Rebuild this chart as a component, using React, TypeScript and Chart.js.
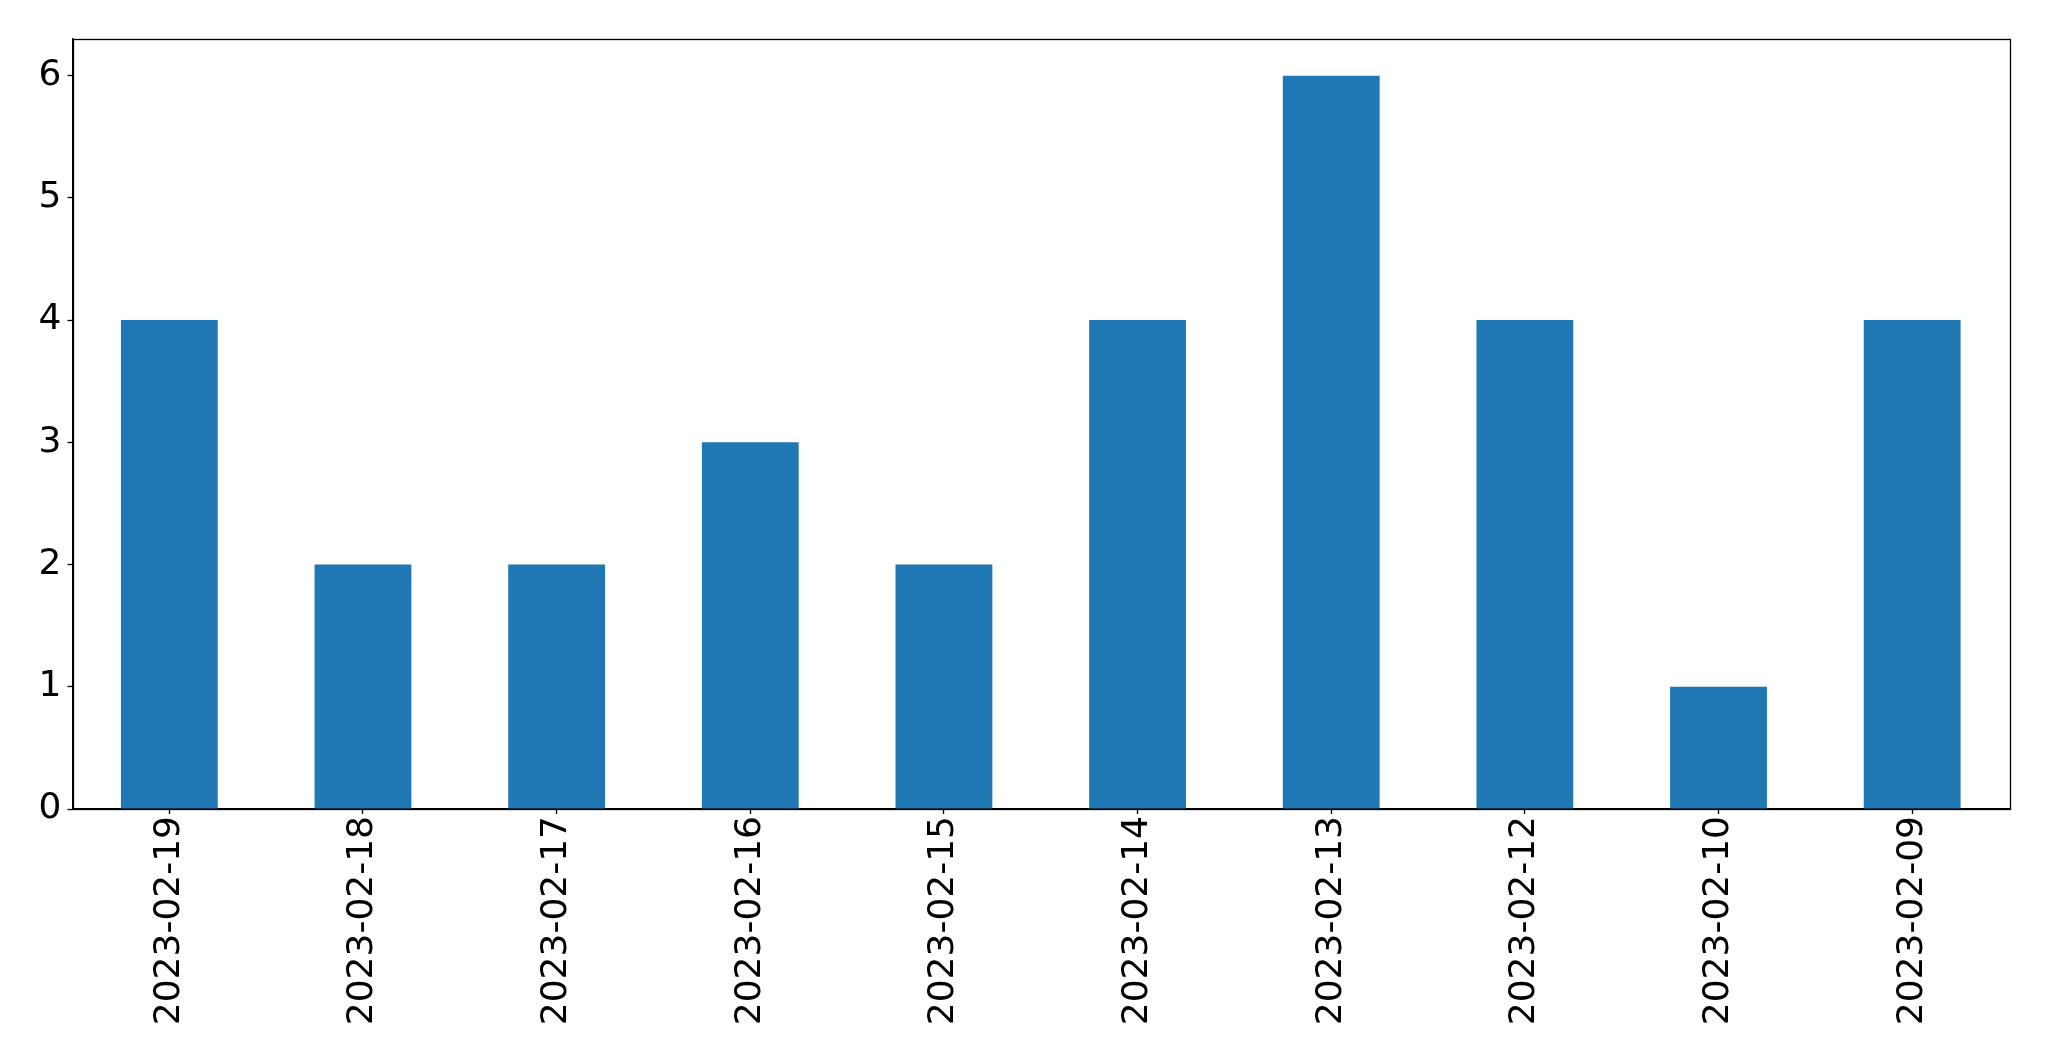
import React, { useEffect, useRef } from "react";
import { Chart, registerables } from "chart.js";

Chart.register(...registerables);

const categories = [
  "2023-02-19",
  "2023-02-18",
  "2023-02-17",
  "2023-02-16",
  "2023-02-15",
  "2023-02-14",
  "2023-02-13",
  "2023-02-12",
  "2023-02-10",
  "2023-02-09",
];
const counts = [4, 2, 2, 3, 2, 4, 6, 4, 1, 4];
const yTicks = [0, 1, 2, 3, 4, 5, 6];

const frame = {
  id: "frame",
  afterDraw(chart: any) {
    const { ctx, chartArea } = chart;
    ctx.save();
    ctx.strokeStyle = "#000";
    ctx.lineWidth = 1.3;
    ctx.strokeRect(
      Math.round(chartArea.left) + 0.5,
      Math.round(chartArea.top) + 0.5,
      Math.round(chartArea.right - chartArea.left),
      Math.round(chartArea.bottom - chartArea.top)
    );
    ctx.restore();
  },
};

export default function App() {
  const ref = useRef<HTMLCanvasElement | null>(null);
  useEffect(() => {
    if (!ref.current) return;
    const font = { family: "DejaVu Sans", size: 36 };
    const chart = new Chart(ref.current, {
      type: "bar",
      data: {
        labels: categories,
        datasets: [
          {
            data: counts,
            backgroundColor: "#1f77b4",
            categoryPercentage: 1,
            barPercentage: 0.5,
          },
        ],
      },
      options: {
        animation: false,
        responsive: false,
        maintainAspectRatio: false,
        layout: { padding: { top: 39, right: 40, left: 0, bottom: 0 } },
        plugins: { legend: { display: false }, tooltip: { enabled: false } },
        scales: {
          x: {
            offset: true,
            grid: {
              offset: false,
              drawOnChartArea: false,
              drawTicks: true,
              tickLength: 5,
              tickColor: "#000",
              tickWidth: 1.3,
            },
            border: { display: true, color: "#000", width: 1.3 },
            ticks: {
              color: "#000",
              font,
              maxRotation: 90,
              minRotation: 90,
              padding: 2,
              autoSkip: false,
            },
            afterFit(scale: any) {
              scale.height = 252;
            },
          },
          y: {
            min: 0,
            max: 6.3,
            grid: {
              drawOnChartArea: false,
              drawTicks: true,
              tickLength: 5,
              tickColor: "#000",
              tickWidth: 1.3,
            },
            border: { display: true, color: "#000", width: 1.3 },
            ticks: { color: "#000", font, padding: 6 },
            afterBuildTicks(scale: any) {
              scale.ticks = yTicks.map((v) => ({ value: v }));
            },
            afterFit(scale: any) {
              scale.width = 72.5;
            },
          },
        },
      },
      plugins: [frame],
    });
    return () => chart.destroy();
  }, []);
  return (
    <div style={{ position: "fixed", left: 0, top: 0, width: 2049, height: 1061, background: "#fff" }}>
      <canvas ref={ref} width={2049} height={1061} style={{ width: 2049, height: 1061 }} />
    </div>
  );
}
